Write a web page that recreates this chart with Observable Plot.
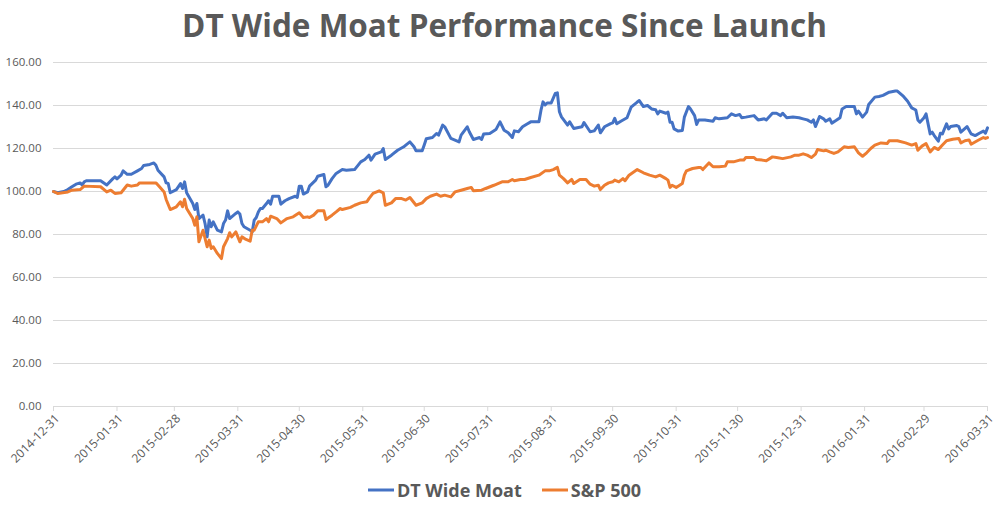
<!DOCTYPE html>
<html>
<head>
<meta charset="utf-8">
<script src="https://cdn.jsdelivr.net/npm/d3@7"></script>
<script src="https://cdn.jsdelivr.net/npm/@observablehq/plot@0.6"></script>
<style>
  html, body { margin: 0; padding: 0; background: #fff; }
  #wrap { width: 996px; height: 512px; font-family: "Open Sans", sans-serif; color: #595959; }
  #title { height: 50px; line-height: 50px; text-align: center; font-size: 31.5px; font-weight: 700; color: #595959; padding-left: 13px; }
  #legend { display: flex; justify-content: center; align-items: center; gap: 20px; height: 40px; font-size: 18px; font-weight: 700; color: #595959; padding-left: 13px; }
  #legend .item { display: flex; align-items: center; }
  #legend svg { margin-right: 3px; }
</style>
</head>
<body>
<div id="wrap">
  <div id="title">DT Wide Moat Performance Since Launch</div>
  <div id="chart"></div>
  <div id="legend"></div>
</div>
<script>
// Launch date; series positions are calendar-day offsets from it
const launchDate = "2014-12-31";

const seriesNames = ["DT Wide Moat", "S&P 500"];
const seriesColors = ["#4472C4", "#ED7D31"];

// DT Wide Moat: days since launch, index value
const moatDays = [0,2,5,7,9,11,13,14,15,16,23,26,29,30,31,33,34,36,38,41,43,44,47,49,50,51,54,55,56,57,60,62,63,64,65,68,69,70,71,73,74,75,76,77,78,80,82,83,84,85,86,89,90,91,92,93,96,97,98,99,100,101,102,104,105,106,107,110,111,113,115,118,119,120,121,122,124,125,128,129,132,133,134,136,138,141,143,147,150,152,154,155,157,160,161,162,165,168,171,172,174,176,177,180,181,182,185,187,188,190,191,194,196,198,199,202,203,205,208,209,210,213,216,218,220,222,224,225,227,229,231,233,237,238,239,240,241,243,245,246,247,248,251,252,254,258,259,262,264,266,267,269,272,273,274,275,277,280,282,285,286,288,290,292,294,295,296,299,300,301,302,303,305,307,308,310,311,313,314,315,318,322,323,325,329,331,333,335,336,338,342,344,347,348,351,353,355,356,358,361,364,366,368,370,371,372,374,376,377,379,380,382,384,385,387,391,392,393,395,397,398,401,403,405,408,411,412,415,417,419,421,422,423,425,426,428,429,430,432,433,434,436,437,438,441,442,443,446,448,450,452,454,455,456];
const moatValues = [100,99.4,100,100.9,102.2,103.4,104,103,104.5,105,105,103,106,106.8,105.9,107.6,109.6,108,108,109.6,110.7,112.1,112.6,113.3,112.2,109.9,106.8,104,103.7,99.4,100.9,103.7,101.4,104.5,99.4,94.4,91.6,94.4,87.4,89,85.1,78.9,86.7,83.6,85.9,82,81.2,85.1,86.7,91,87.4,89.8,90.5,89.5,85.1,83.6,82,81.2,86.7,87.9,90.5,92.1,92.1,94.4,95.7,94.1,97.8,97.8,94.1,95.7,96.7,97.8,97.2,102.5,102.5,98.8,99.8,102.5,105.3,107.1,107.9,102.2,102.9,106,108.4,110.2,109.9,110.2,113.8,114.9,116.9,114.6,117.4,118.4,120,114.9,116.9,119.2,120.8,121.6,123.1,120.8,118.9,118.9,121.6,124.5,125.1,127,126.2,130.9,130.1,124.7,123.9,123.1,126.2,130.1,127.8,124.2,125.1,124.2,126.7,127,128.8,132.4,128.5,127.3,125.1,128.2,127.8,130.1,131.3,132.4,132.4,137.8,141.7,140.2,141.2,141.2,145.6,145.9,137.1,134.7,130.9,132.4,129.3,130.1,132.1,127.8,128.2,130.9,127.3,130.1,131.6,131.9,134,131.5,132.7,134.3,139.2,141.6,142.3,139.5,140,138.4,138,136.1,137.4,136.4,136.9,132.2,132.2,129.1,128.1,128.4,134.6,139.5,138.4,135.3,131.2,133.3,133.3,132.7,134.3,133.8,134.3,136.1,135.3,135.8,134.3,134.6,135.3,133.3,133.8,133.3,136.4,136.4,135.3,136.4,134.3,134.6,134.3,133.8,133.3,132.2,133.3,130.2,134.9,133.8,132.7,133.8,131.8,133,134.3,138.4,139.5,139.5,136.1,137.4,134.6,136.9,140.5,143.9,144.2,144.7,146.2,146.7,146.7,144.2,142,138.9,137.9,133.3,132.2,134.3,136.1,126.8,127.6,126,123.4,127.1,126.8,131.5,129.1,130.2,130.7,130.2,127.6,130.2,126.8,126,127.1,128.1,127.1,129.6];

// S&P 500: days since launch, index value
const spDays = [0,2,7,9,13,15,23,26,28,30,33,36,38,41,42,50,51,54,55,57,60,62,63,64,65,68,69,70,71,73,75,76,77,78,80,82,83,85,86,87,89,91,92,94,96,97,98,100,102,104,105,106,109,111,114,117,120,122,124,125,127,129,132,133,136,138,140,141,145,147,150,153,154,156,159,161,162,165,167,170,172,174,177,180,182,184,187,189,191,194,196,199,202,204,205,209,211,215,219,222,224,225,228,230,233,237,240,242,244,246,247,249,251,253,254,257,260,262,264,266,267,269,271,273,274,276,278,279,281,285,288,291,294,296,299,300,301,302,304,307,308,309,312,315,316,317,320,322,325,328,329,332,335,337,338,342,343,346,348,351,353,356,360,362,364,366,368,370,372,373,376,377,379,381,383,386,388,391,393,395,397,399,401,404,407,408,412,416,419,421,422,424,426,428,430,432,434,436,439,442,443,445,447,448,451,454,455,456];
const spValues = [100,99.1,99.8,100.6,100.9,102.5,102.2,99.8,100.6,99.1,99.4,103,102.5,103,104,104,103,99.8,96.3,91.6,92.9,95.2,92.9,96.4,92.1,87.4,84.3,88.2,76.6,82,74.3,77.4,73.5,74.3,71.2,68.8,74.3,78.1,80.8,78.9,81.2,76.6,78.9,77.7,76.9,82,82,85.9,85.9,87.4,85.9,88.5,87.4,85.4,87.4,88.2,90.1,87.9,88.2,87.9,89,91,91,87,89,90.5,92.1,91.6,92.6,93.6,94.7,95.2,96.7,99.1,100.3,99.4,93.6,94.7,96.7,96.7,96,97.2,93.6,94.7,96.7,97.8,98.8,97.8,98.3,97.5,99.8,100.6,101.4,101.9,100.3,100.6,101.4,102.9,104.5,104.5,105.6,105,105.6,105.6,106.5,107.6,109.6,109.6,110.2,111.2,107.6,106,104,105.6,103.7,105.6,105.6,103.4,102.5,102.9,100.9,102.9,104,104.5,105.3,104.5,106,105,107.6,110.2,108.7,107.6,106.8,107.6,106,105.3,101.9,102.9,101.9,103.7,107.6,109.6,110.7,111.2,111.2,110.2,113.3,111.5,111.5,111.8,113.8,113.8,114.6,114.6,115.8,115.8,114.9,114.6,114.3,116.1,115.8,115.3,116.1,116.9,116.9,117.5,116.9,115.8,117.4,119.5,118.9,119.2,118.4,117.7,118.4,120.8,120.5,120.8,118,116.4,118,120,121.6,122.6,122.3,123.6,123.6,122.6,121.6,122.3,119.2,121.1,122.3,118.4,120.5,119.5,121.6,123.6,124.3,124.7,122.6,123.6,124,122,123.6,125.1,124.7,125.1];

// Axis tick labels
const xTickLabels = ["2014-12-31","2015-01-31","2015-02-28","2015-03-31","2015-04-30","2015-05-31","2015-06-30","2015-07-31","2015-08-31","2015-09-30","2015-10-31","2015-11-30","2015-12-31","2016-01-31","2016-02-29","2016-03-31"];
const yTicks = [0,20,40,60,80,100,120,140,160];

const parse = d3.utcParse("%Y-%m-%d");
const launch = parse(launchDate);
const rows = [];
moatDays.forEach((d, i) => rows.push({series: seriesNames[0], date: d3.utcDay.offset(launch, d), value: moatValues[i]}));
spDays.forEach((d, i) => rows.push({series: seriesNames[1], date: d3.utcDay.offset(launch, d), value: spValues[i]}));
const tickDates = xTickLabels.map(parse);

const plot = Plot.plot({
  width: 996,
  height: 420,
  marginTop: 12,
  marginBottom: 64,
  marginLeft: 53,
  marginRight: 9,
  style: {fontFamily: "'Open Sans', sans-serif", fontSize: "11.5px", color: "#595959", background: "#fff"},
  x: {type: "utc", domain: [tickDates[0], tickDates[tickDates.length - 1]]},
  y: {domain: [0, 160]},
  color: {domain: seriesNames, range: seriesColors},
  marks: [
    Plot.gridY(yTicks, {stroke: "#d9d9d9", strokeOpacity: 1, strokeWidth: 1}),
    Plot.axisY(yTicks, {tickSize: 0, tickPadding: 12, tickFormat: d => d.toFixed(2), fill: "#595959", label: null}),
    // tick marks only
    Plot.axisX(tickDates, {tickSize: 5, tickFormat: () => "", stroke: "#d9d9d9", label: null}),
    // rotated labels, nudged right like the original
    Plot.axisX(tickDates, {tickSize: 0, tickPadding: 10, tickRotate: -45, fontSize: 12, dx: 4, tickFormat: d3.utcFormat("%Y-%m-%d"), fill: "#595959", label: null}),
    Plot.line(rows, {x: "date", y: "value", z: "series", stroke: "series", strokeWidth: 3, strokeLinejoin: "round", strokeLinecap: "round"})
  ]
});
document.getElementById("chart").appendChild(plot);

const legend = document.getElementById("legend");
seriesNames.forEach((name, i) => {
  const item = document.createElement("div");
  item.className = "item";
  item.innerHTML = `<svg width="26" height="10"><line x1="0" x2="26" y1="5" y2="5" stroke="${seriesColors[i]}" stroke-width="3"/></svg><span>${name}</span>`;
  legend.appendChild(item);
});
</script>
</body>
</html>
